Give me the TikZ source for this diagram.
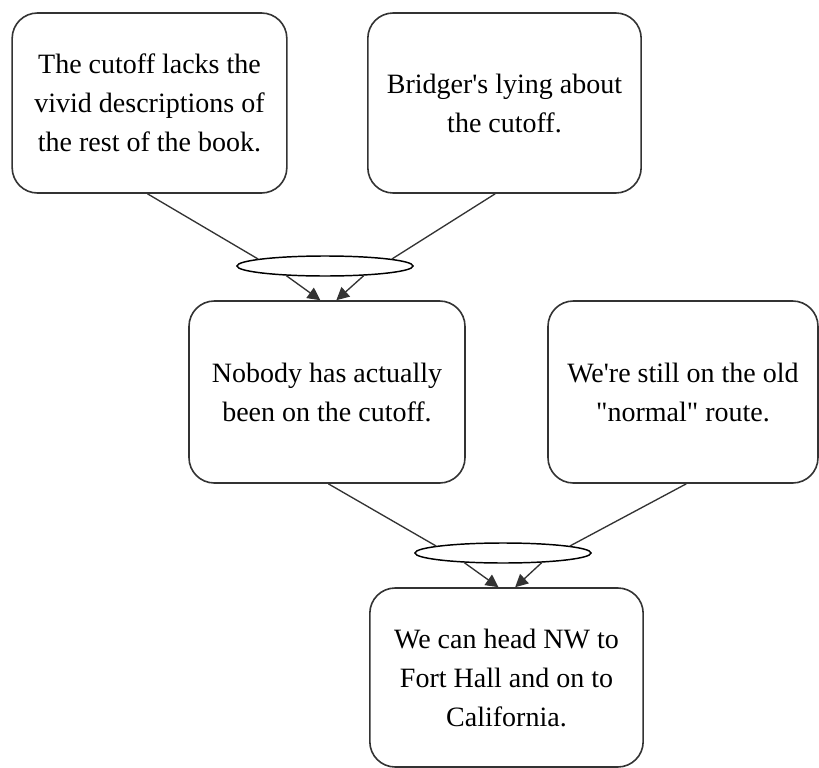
\documentclass[tikz,border=0pt]{standalone}
\usepackage{fontspec}
\setmainfont{Liberation Serif}[Ligatures=TeXOff]
\usetikzlibrary{shapes.geometric,arrows.meta}
\definecolor{edge}{HTML}{333333}
\begin{document}
\begin{tikzpicture}[x=0.75pt,y=-0.75pt,
  claim/.style={draw=edge,line width=1.2pt,rounded corners=19pt,fill=white,
    minimum width=205pt,minimum height=135pt,align=center,
    font=\fontsize{21}{29.25}\selectfont,inner sep=0pt},
  junction/.style={draw=black,line width=1.1pt,ellipse,fill=white,
    minimum width=132pt,minimum height=15pt,inner sep=0pt},
  link/.style={draw=edge,line width=1pt},
  support/.style={link,-{Triangle[length=9.5pt,width=9.5pt]}}]
\useasboundingbox (0,0) rectangle (819,768);
% premises
\node[claim,minimum width=206pt] (A) at (149.5,103)
  {The cutoff lacks the\\vivid descriptions of\\the rest of the book.};
\node[claim] (B) at (504.5,103) {Bridger's lying about\\the cutoff.};
% intermediate conclusion and second premise
\node[claim,minimum width=207pt,minimum height=136.5pt] (C) at (327,392)
  {Nobody has actually\\been on the cutoff.};
\node[claim,minimum width=202.5pt,minimum height=136.5pt] (D) at (683,392)
  {We're still on the old\\"normal" route.};
% final conclusion
\node[claim,minimum height=134.25pt] (E) at (506.5,677.5)
  {We can head NW to\\Fort Hall and on to\\California.};
% junctions joining the premises
\node[junction] (J1) at (325,266) {};
\node[junction] (J2) at (503,553) {};
% premises into the first junction
\draw[link] ([xshift=-1.5pt]A.south) -- (J1.174);
\draw[link] ([xshift=-7pt]B.south) -- (J1.6);
\draw[support] (J1.194) -- ([xshift=-5pt]C.north);
\draw[support] (J1.346) -- ([xshift=7pt]C.north);
% second level into the second junction
\draw[link] ([xshift=1pt]C.south) -- (J2.174);
\draw[link] ([xshift=2.5pt]D.south) -- (J2.6);
\draw[support] (J2.194) -- ([xshift=-6pt]E.north);
\draw[support] (J2.346) -- ([xshift=6.5pt]E.north);
\end{tikzpicture}
\end{document}
